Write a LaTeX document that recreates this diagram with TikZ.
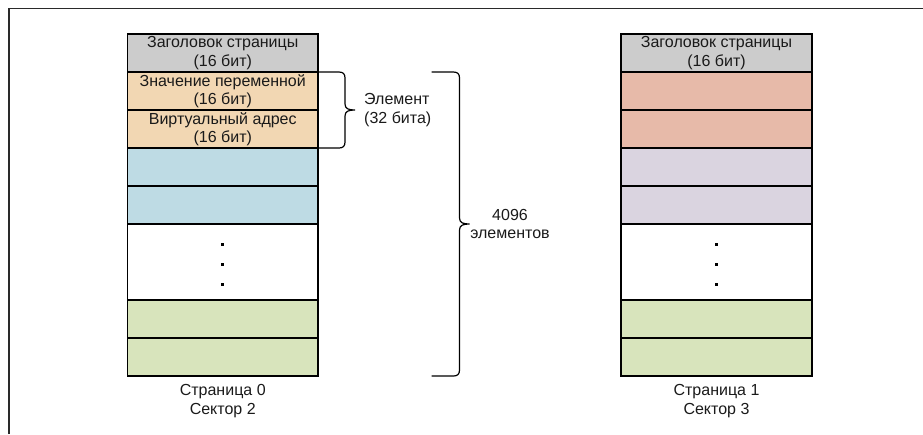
\documentclass[tikz,border=0pt]{standalone}
\usepackage{fontspec}
\setmainfont{Liberation Sans}
\usetikzlibrary{positioning}
\definecolor{hdrgray}{HTML}{CCCCCC}
\definecolor{peach}{HTML}{F2D7B3}
\definecolor{lblue}{HTML}{BEDBE4}
\definecolor{lgreen}{HTML}{D8E4BC}
\definecolor{salmon}{HTML}{E7BAA9}
\definecolor{lilac}{HTML}{DAD4E0}
\definecolor{ink}{HTML}{1A1A1A}
\definecolor{framegray}{HTML}{2A2A2A}
\tikzset{
  cell/.style={draw=black, line width=1.1pt, minimum width=190.5pt, minimum height=38pt,
    inner sep=0pt, outer sep=0pt, align=center, text=ink,
    font=\fontsize{16}{18.5}\selectfont},
  tallcell/.style={cell, minimum height=76pt, fill=white},
  caption/.style={align=center, text=ink, inner sep=0pt, font=\fontsize{16}{18.5}\selectfont},
  brace/.style={draw=black, line width=1.2pt},
  dotmark/.style={fill=black, minimum size=3pt, inner sep=0pt, outer sep=0pt, rectangle},
}
\begin{document}
\begin{tikzpicture}[x=1pt, y=-1pt]
\useasboundingbox (0,0) rectangle (923,434);
% outer frame (top and left edges)
\draw[framegray, line width=1.6pt] (9,434) -- (9,8.5) -- (923,8.5);

% ---- page 0 ----
\node[cell, fill=hdrgray] (h0) at (222.75,53) {Заголовок страницы\\(16 бит)};
\node[cell, fill=peach, below=0pt of h0] (v0) {Значение переменной\\(16 бит)};
\node[cell, fill=peach, below=0pt of v0] (a0) {Виртуальный адрес\\(16 бит)};
\node[cell, fill=lblue, below=0pt of a0] (b0a) {};
\node[cell, fill=lblue, below=0pt of b0a] (b0b) {};
\node[tallcell, below=0pt of b0b] (d0) {};
\node[cell, fill=lgreen, below=0pt of d0] (g0a) {};
\node[cell, fill=lgreen, below=0pt of g0a] (g0b) {};
\node[dotmark] at ([yshift=18pt]d0.center) {};
\node[dotmark] at ([yshift=-2pt]d0.center) {};
\node[dotmark] at ([yshift=-22pt]d0.center) {};
\node[caption, below=8.5pt of g0b] (p0) {Страница 0\\Сектор 2};

% ---- page 1 ----
\node[cell, fill=hdrgray, minimum width=191pt] (h1) at (716.5,53) {Заголовок страницы\\(16 бит)};
\node[cell, fill=salmon, minimum width=191pt, below=0pt of h1] (v1) {};
\node[cell, fill=salmon, minimum width=191pt, below=0pt of v1] (a1) {};
\node[cell, fill=lilac, minimum width=191pt, below=0pt of a1] (b1a) {};
\node[cell, fill=lilac, minimum width=191pt, below=0pt of b1a] (b1b) {};
\node[tallcell, minimum width=191pt, below=0pt of b1b] (d1) {};
\node[cell, fill=lgreen, minimum width=191pt, below=0pt of d1] (g1a) {};
\node[cell, fill=lgreen, minimum width=191pt, below=0pt of g1a] (g1b) {};
\node[dotmark] at ([yshift=18pt]d1.center) {};
\node[dotmark] at ([yshift=-2pt]d1.center) {};
\node[dotmark] at ([yshift=-22pt]d1.center) {};
\node[caption, below=8.5pt of g1b] (p1) {Страница 1\\Сектор 3};

% ---- brace over one element ----
\draw[brace] (v0.north east) -- ++(21,0)
  .. controls +(4,0) and +(0,-4) .. ++(6,6)
  -- ++(0,26)
  .. controls +(0,5) and +(-6,0) .. ++(10,6)
  .. controls +(-6,0) and +(0,-5) .. ++(-10,6)
  -- ++(0,26)
  .. controls +(0,4) and +(4,0) .. ++(-6,6)
  -- (a0.south east);
\node[caption, anchor=west, align=left] (elem) at (364,110) {Элемент\\(32 бита)};

% ---- brace over the whole page ----
\coordinate (bigtop) at (431.5,72);
\coordinate (bigbot) at (431.5,376);
\draw[brace] (bigtop) -- ++(22,0)
  .. controls +(4,0) and +(0,-4) .. ++(6,6)
  -- ++(0,140)
  .. controls +(0,5) and +(-6,0) .. ++(10,6)
  .. controls +(-6,0) and +(0,-5) .. ++(-10,6)
  -- ++(0,140)
  .. controls +(0,4) and +(4,0) .. ++(-6,6)
  -- (bigbot);
\node[caption] (count) at (510,224) {4096\\элементов};
\end{tikzpicture}
\end{document}
